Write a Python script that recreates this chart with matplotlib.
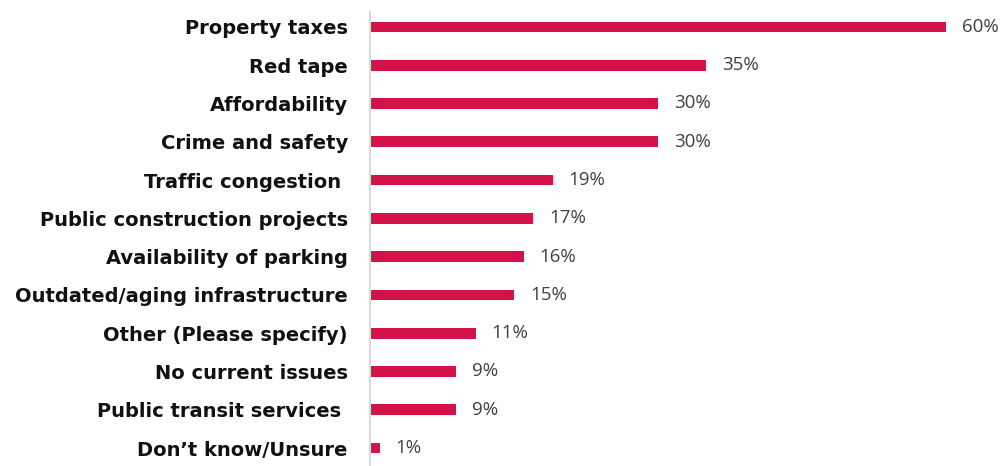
import matplotlib.pyplot as plt

categories = ['Property taxes', 'Red tape', 'Affordability', 'Crime and safety',
              'Traffic congestion ', 'Public construction projects',
              'Availability of parking', 'Outdated/aging infrastructure',
              'Other (Please specify)', 'No current issues',
              'Public transit services ', 'Don\u2019t know/Unsure']
values = [60, 35, 30, 30, 19, 17, 16, 15, 11, 9, 9, 1]

fig = plt.figure(figsize=(10.04, 4.66), dpi=100)
ax = fig.add_axes([370 / 1004, 0, 634 / 1004, 454 / 466])

pos = range(len(categories))
ax.barh(pos, values, height=0.28, color='#D4124A')
ax.set_xlim(0, 66)
ax.set_ylim(11.47, -0.39)

for i, v in enumerate(values):
    ax.annotate(f'{v}%', (v, i), xytext=(11.5, 0), textcoords='offset points',
                va='center', ha='left', fontsize=13.5, color='#404040',
                family='Open Sans')

ax.set_yticks(list(pos))
ax.set_yticklabels(categories, fontsize=14, fontweight='bold',
                   family='DejaVu Sans', color='#111111')
ax.tick_params(axis='y', length=0, pad=16)
ax.set_xticks([])
for side in ['top', 'right', 'bottom']:
    ax.spines[side].set_visible(False)
ax.spines['left'].set_color('#D9D9D9')
ax.spines['left'].set_linewidth(1.5)

fig.savefig('out.png', dpi=100)
